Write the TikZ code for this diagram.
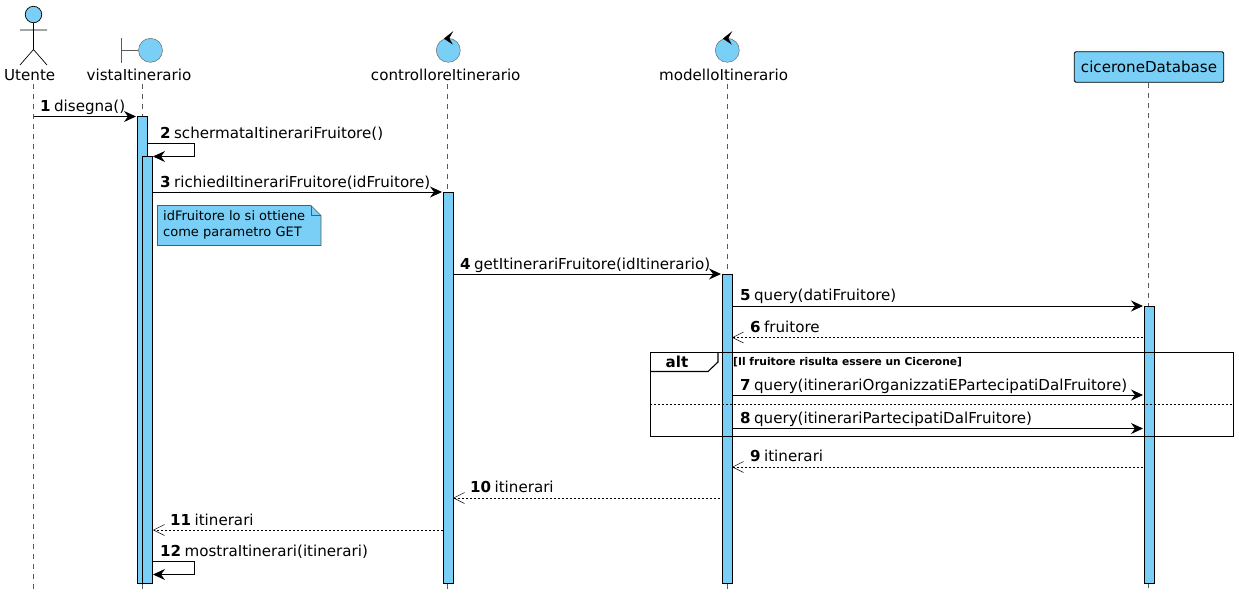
\documentclass[tikz,border=0pt]{standalone}
\usepackage{fontspec}
\setmainfont{DejaVu Sans}
\usetikzlibrary{arrows.meta}
\definecolor{umlblue}{HTML}{79CFF6}
\definecolor{umlgrey}{HTML}{5A5A5A}
\tikzset{
  head/.style = {circle, draw = umlgrey, fill = umlblue, inner sep = 0, minimum size = 24},
  tag/.style = {inner sep = 0, font = \fontsize{15.1}{17}\selectfont},
  msg/.style = {tag, anchor = base west},
  lifeline/.style = {draw = umlgrey, dash pattern = on 5pt off 5pt, line width = 0.5},
  bar/.style = {rectangle, draw = black, fill = umlblue, inner sep = 0, minimum width = 10, line width = 0.8},
  call/.style = {draw = black, line width = 0.9, -{Stealth[length = 12, width = 11, inset = 4]}},
  reply/.style = {draw = black, line width = 0.7, dash pattern = on 2pt off 2pt, -{Straight Barb[length = 11, width = 11, line width = 0.5]}}
}

\begin{document}
\begin{tikzpicture}[x = 1pt, y = -1pt]
    \useasboundingbox (0, 0) rectangle (1239, 598);

    % lifelines first, everything else sits on top
    \foreach \who/\px/\ptop in {utente/33.5/84, vista/142.5/84, controllore/447.5/84, modello/727/84, database/1148.5/83} {
      \coordinate (\who Top) at (\px, \ptop);
      \coordinate (\who End) at (\px, 590);
      \draw [lifeline] (\who Top) -- (\who End);
    }

    % participants
    \node [circle, draw = black, fill = umlblue, inner sep = 0, minimum size = 16.5, line width = 0.7] (utenteHead) at (33.5, 14.5) {};
    \coordinate (utenteHip) at (33.5, 49.5);
    \coordinate (utenteArmL) at (20, 30);
    \coordinate (utenteArmR) at (47, 30);
    \coordinate (utenteLegL) at (20, 65);
    \coordinate (utenteLegR) at (47, 65);
    \draw [line width = 0.7] (utenteHead) -- (utenteHip) (utenteArmL) -- (utenteArmR) (utenteLegL) -- (utenteHip) -- (utenteLegR);
    \node [tag] (utenteTag) at (29.7, 75) {Utente};

    \node [head] (vistaHead) at (150.5, 50.3) {};
    \coordinate (vistaPost) at (121.7, 50.3);
    \coordinate (vistaPostA) at (121.7, 38);
    \coordinate (vistaPostB) at (121.7, 62.5);
    \draw [umlgrey, line width = 0.7] (vistaPostA) -- (vistaPostB) (vistaPost) -- (vistaHead);
    \node [tag] (vistaTag) at (139, 75) {vistaItinerario};

    \foreach \who/\px/\ptx in {controllore/448.3/445.7, modello/727.3/723.6} {
      \node [head] (\who Head) at (\px, 50.3) {};
      \fill (\who Head.north) ++(5, -7) -- ++(-9.5, 7.5) -- ++(9, 6) -- ++(-3.5, -6.5) -- cycle;
      \node [tag] (\who Tag) at (\ptx, 75) {\who Itinerario};
    }

    \node [tag, draw = black, fill = umlblue, rounded corners = 1.5, line width = 0.8, minimum width = 149.5, minimum height = 30.5] (databaseBox) at (1149, 67) {ciceroneDatabase};

    % activation bars
    \foreach \who/\px/\ya in {vistaOuter/142.5/116.5, vistaInner/147.5/156.5, controlloreBar/448/192, modelloBar/727/274, databaseBar/1149/306} {
      \pgfmathsetmacro{\ymid}{(\ya + 583) / 2}
      \pgfmathsetmacro{\yhigh}{583 - \ya}
      \node [bar, minimum height = \yhigh] (\who) at (\px, \ymid) {};
    }

    % alt frame
    \coordinate (altA) at (650, 352);
    \coordinate (altB) at (1233, 436);
    \coordinate (altTabA) at (718, 352);
    \coordinate (altTabB) at (718, 362);
    \coordinate (altTabC) at (708, 371.5);
    \coordinate (altTabD) at (650, 371.5);
    \coordinate (altSepA) at (650, 404.5);
    \coordinate (altSepB) at (1233, 404.5);
    \draw [line width = 0.9] (altA) rectangle (altB);
    \draw [line width = 1.1] (altTabA) -- (altTabB) -- (altTabC) -- (altTabD);
    \draw [line width = 0.7, dash pattern = on 2pt off 2pt] (altSepA) -- (altSepB);
    \node [tag, font = \fontsize{15.1}{17}\selectfont\bfseries] (altTag) at (677, 361.5) {alt};
    \node [msg, font = \fontsize{10.7}{13}\selectfont\bfseries] (altGuard) at (733, 365) {[Il fruitore risulta essere un Cicerone]};

    % note
    \coordinate (noteA) at (157.5, 205.5);
    \coordinate (noteB) at (311, 205.5);
    \coordinate (noteC) at (321, 215.5);
    \coordinate (noteD) at (321, 245.5);
    \coordinate (noteE) at (157.5, 245.5);
    \coordinate (noteF) at (311, 215.5);
    \draw [umlgrey, fill = umlblue, line width = 0.6] (noteA) -- (noteB) -- (noteC) -- (noteD) -- (noteE) -- cycle;
    \draw [umlgrey, line width = 0.6] (noteB) -- (noteF) -- (noteC);
    \node [tag, anchor = north west, align = left, font = \fontsize{13}{15.5}\selectfont] (noteTag) at (163, 210.5) {idFruitore lo si ottiene\\come parametro GET};

    % straight messages
    \foreach \num/\kind/\xa/\xb/\ya in {1/call/33.5/136/116.5, 3/call/153/442/192, 4/call/453/721/274, 5/call/732/1143/306,
                                        6/reply/1143/732/337.5, 7/call/732/1143/395, 8/call/732/1143/428.5, 9/reply/1143/732/467,
                                        10/reply/720/453/498, 11/reply/443/153/530} {
      \coordinate (from\num) at (\xa, \ya);
      \coordinate (to\num) at (\xb, \ya);
      \draw [\kind] (from\num) -- (to\num);
    }

    % self messages
    \foreach \num/\xa/\ya/\yb in {2/147.5/143.5/156.5, 12/153/561.5/574.5} {
      \coordinate (from\num) at (\xa, \ya);
      \coordinate (turn\num) at (194.5, \ya);
      \coordinate (back\num) at (194.5, \yb);
      \coordinate (to\num) at (153, \yb);
      \draw [call] (from\num) -- (turn\num) -- (back\num) -- (to\num);
    }

    % message labels
    \foreach \num/\px/\py/\txt in {1/40/111/disegna(), 2/160/138/schermataItinerariFruitore(), 3/160/187/richiediItinerariFruitore(idFruitore),
                                   4/460/269/getItinerariFruitore(idItinerario), 5/740/300/query(datiFruitore), 6/750/332/fruitore,
                                   7/740/390/query(itinerariOrganizzatiEPartecipatiDalFruitore), 8/740/423/query(itinerariPartecipatiDalFruitore),
                                   9/750/461/itinerari, 10/470/492/itinerari, 11/170/525/itinerari, 12/160/556/mostraItinerari(itinerari)} {
      \node [msg] (label\num) at (\px, \py) {\textbf{\num}\hspace{3.4pt}\txt};
    }
  \end{tikzpicture}
\end{document}
